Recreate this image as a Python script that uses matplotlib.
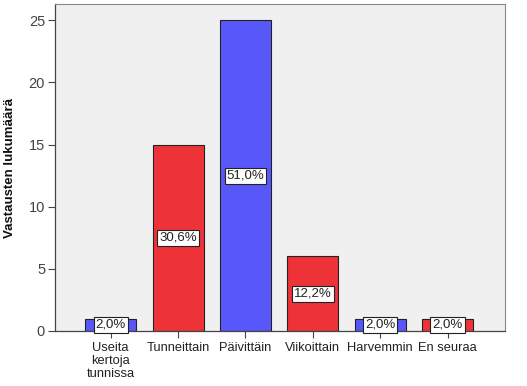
import matplotlib
matplotlib.use("Agg")
import matplotlib.pyplot as plt

categories = ["Useita\nkertoja\ntunnissa", "Tunneittain", "Päivittäin",
              "Viikoittain", "Harvemmin", "En seuraa"]
counts = [1, 15, 25, 6, 1, 1]
percents = ["2,0%", "30,6%", "51,0%", "12,2%", "2,0%", "2,0%"]
y_ticks = [0, 5, 10, 15, 20, 25]

BLUE = "#5858FA"
RED = "#EE3338"
colors = [BLUE if i % 2 == 0 else RED for i in range(len(counts))]

plt.rcParams["font.family"] = ["Liberation Sans", "DejaVu Sans"]

fig = plt.figure(figsize=(5.27, 3.86), dpi=100)
fig.patch.set_facecolor("white")
ax = fig.add_axes([0.104, 0.1425, 0.854, 0.847])
ax.set_facecolor("#F0F0F0")

x = list(range(len(counts)))
ax.bar(x, counts, width=0.76, color=colors, edgecolor="#222222", linewidth=0.8, zorder=2)

for xi, c, p in zip(x, counts, percents):
    ax.text(xi, c / 2, p, ha="center", va="center", fontsize=9.5, color="#222222", zorder=3,
            bbox=dict(boxstyle="square,pad=0.15", facecolor="white", edgecolor="#222222", linewidth=0.8))

ax.set_xlim(-0.83, 5.85)
ax.set_ylim(0, 26.3)
ax.set_yticks(y_ticks)
ax.set_xticks(x)
ax.set_xticklabels(categories, linespacing=1.12)
ax.tick_params(axis="both", direction="out", length=5, width=0.8, colors="#444444",
               labelcolor="#222222")
ax.tick_params(axis="x", pad=3, labelsize=9.3)
ax.tick_params(axis="y", pad=2, labelsize=10.5, labelcolor="#444444")
ax.set_ylabel("Vastausten lukumäärä", fontsize=9.5, fontweight="bold", color="#111111", labelpad=9)

for side in ["left", "bottom"]:
    ax.spines[side].set_color("#444444")
    ax.spines[side].set_linewidth(0.9)
for side in ["top", "right"]:
    ax.spines[side].set_color("#888888")
    ax.spines[side].set_linewidth(0.8)

fig.savefig("out.png", dpi=100)
